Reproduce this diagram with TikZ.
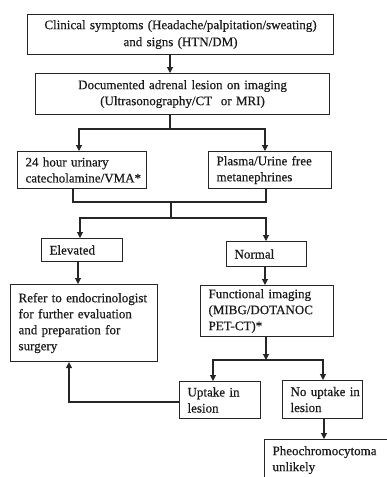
\documentclass[tikz,border=0pt]{standalone}
\usepackage{fontspec}
\setmainfont{Liberation Serif}[FakeBold=0.4]
\usetikzlibrary{arrows.meta}
\newcommand\ml[1]{\mbox{#1}}
\begin{document}
\begin{tikzpicture}[x=1pt,y=-1pt,
  every node/.style={font=\fontsize{13}{16}\selectfont, text=black!90},
  box/.style={draw=black!85, line width=1.1pt, anchor=north west, inner xsep=8pt, inner ysep=0pt, align=left},
  cbox/.style={box, align=center},
  conn/.style={draw=black!85, line width=1.1pt},
  arr/.style={conn, -{Triangle[length=6pt,width=6pt]}}]
\clip (0,0) rectangle (387,477);
\fill[white] (0,0) rectangle (387,477);
% boxes
\node[cbox, text width=290pt, minimum height=40pt, font=\fontsize{13}{17}\selectfont] (top) at (27,14) {Clinical symptoms (Headache/palpitation/sweating)\\and signs (HTN/DM)};
\node[cbox, text width=278pt, minimum height=41pt] (doc) at (35,73) {Documented adrenal lesion on imaging\\(Ultrasonography/CT\ \ or MRI)};
\node[box, text width=113pt, minimum height=37pt] (urin) at (17,151) {\ml{24 hour urinary}\\\ml{catecholamine/VMA*}};
\node[box, text width=107pt, minimum height=37pt] (plasma) at (208,151) {\ml{Plasma/Urine free}\\\ml{metanephrines}};
\node[box, text width=65pt, minimum height=23pt] (elev) at (41,238) {\ml{Elevated}};
\node[box, text width=64pt, minimum height=25pt] (normal) at (226,241) {\ml{Normal}};
\node[box, text width=131pt, minimum height=77pt] (refer) at (10,284) {\ml{Refer to endocrinologist}\\\ml{for further evaluation}\\\ml{and preparation for}\\\ml{surgery}};
\node[box, text width=117pt, minimum height=51pt] (func) at (200,285) {\ml{Functional imaging}\\\ml{(MIBG/DOTANOC}\\\ml{PET-CT)*}};
\node[box, text width=65pt, minimum height=37pt] (uptake) at (179,381) {\ml{Uptake in}\\\ml{lesion}};
\node[box, text width=64pt, minimum height=38pt] (nouptake) at (282,380) {\ml{No uptake in}\\\ml{lesion}};
\node[box, text width=120pt, minimum height=41pt] (pheo) at (264,439) {\ml{Pheochromocytoma}\\\ml{unlikely}};
% helper coordinates
\coordinate (c1) at (170,129);
\coordinate (xa) at (79,0);
\coordinate (xb) at (265,0);
\coordinate (c2) at (171,218);
\coordinate (y2) at (0,202);
\coordinate (u1) at (73,0);
\coordinate (p1) at (266,0);
\coordinate (xe) at (80,0);
\coordinate (xr) at (78,0);
\coordinate (c3) at (266,360);
\coordinate (xu) at (213,0);
\coordinate (xn) at (323,0);
\coordinate (yl) at (0,402);
\coordinate (xl) at (69,0);
\coordinate (xp) at (324,0);
% connectors
\draw[arr] (top.south -| c1) -- (doc.north -| c1);
\draw[conn] (doc.south -| c1) -- (c1);
\draw[arr] (c1) -| (urin.north -| xa);
\draw[arr] (c1) -| (plasma.north -| xb);
\draw[conn] (urin.south -| u1) |- (y2 -| p1) -- (plasma.south -| p1);
\draw[conn] (y2 -| c2) -- (c2);
\draw[arr] (c2) -| (elev.north -| xe);
\draw[arr] (c2) -| (normal.north -| p1);
\draw[arr] (elev.south -| xr) -- (refer.north -| xr);
\draw[arr] (normal.south -| xb) -- (func.north -| xb);
\draw[arr] (func.south -| c3) -- (c3);
\draw[arr] (c3) -| (uptake.north -| xu);
\draw[arr] (c3) -| (nouptake.north -| xn);
\draw[arr] (uptake.west |- yl) -| (refer.south -| xl);
\draw[arr] (nouptake.south -| xp) -- (pheo.north -| xp);
\end{tikzpicture}
\end{document}
